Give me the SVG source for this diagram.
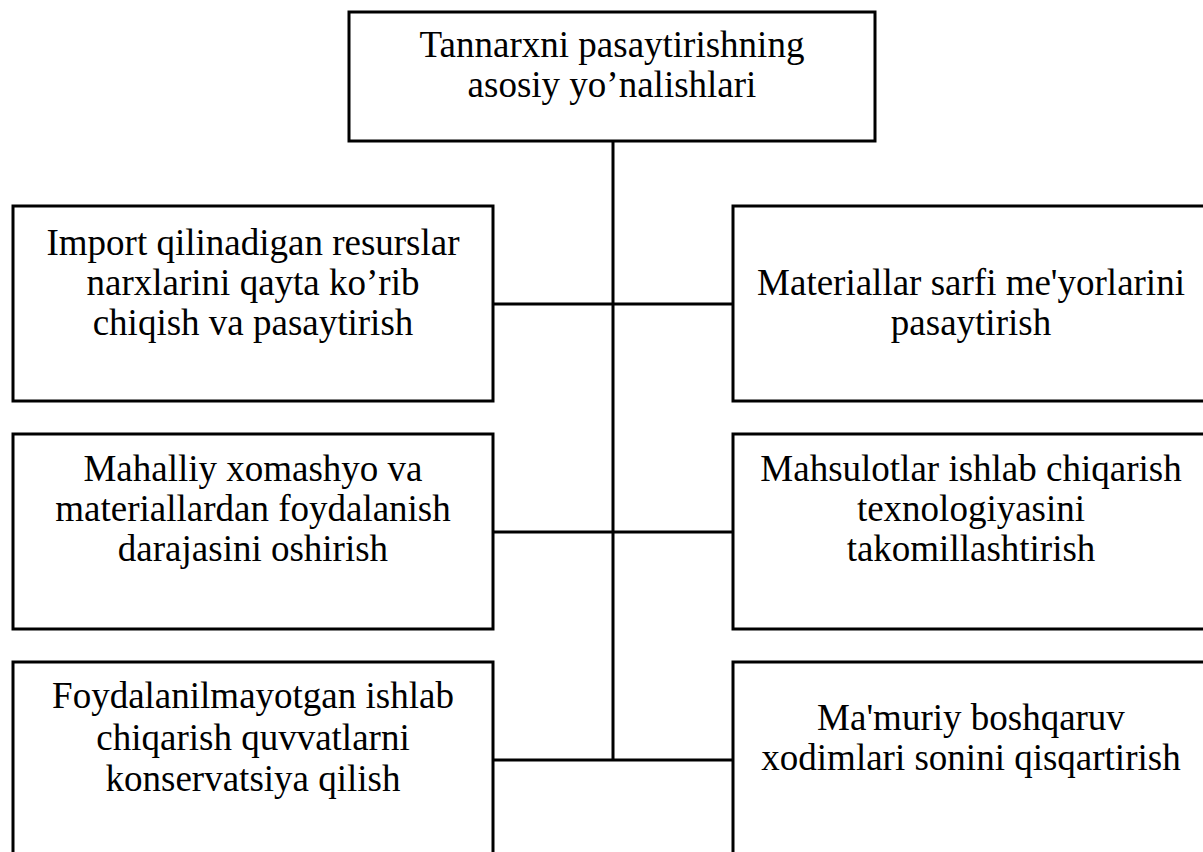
<svg xmlns="http://www.w3.org/2000/svg" width="1203" height="852" viewBox="0 0 1203 852">
<style>
.box{fill:#fff;stroke:#000;stroke-width:3}
.con{fill:none;stroke:#000;stroke-width:3}
text{font-family:"Liberation Serif","Times New Roman",serif;font-size:37px;fill:#000;text-anchor:middle}
</style>
<rect width="1203" height="852" fill="#fff"/>
<g id="connectors">
<line class="con" x1="613" y1="141" x2="613" y2="760"/>
<line class="con" x1="493" y1="304" x2="733" y2="304"/>
<line class="con" x1="493" y1="532" x2="733" y2="532"/>
<line class="con" x1="493" y1="760" x2="733" y2="760"/>
</g>
<g id="root">
<rect class="box" x="349" y="12" width="526" height="129"/>
<text x="612" y="57">Tannarxni pasaytirishning</text>
<text x="612" y="97">asosiy yo’nalishlari</text>
</g>
<g id="left1">
<rect class="box" x="13" y="206" width="480" height="195"/>
<text x="253" y="255">Import qilinadigan resurslar</text>
<text x="253" y="295">narxlarini qayta ko’rib</text>
<text x="253" y="335">chiqish va pasaytirish</text>
</g>
<g id="right1">
<rect class="box" x="733" y="206" width="480" height="195"/>
<text x="971" y="295">Materiallar sarfi me'yorlarini</text>
<text x="971" y="335">pasaytirish</text>
</g>
<g id="left2">
<rect class="box" x="13" y="434" width="480" height="195"/>
<text x="253" y="481">Mahalliy xomashyo va</text>
<text x="253" y="521">materiallardan foydalanish</text>
<text x="253" y="561">darajasini oshirish</text>
</g>
<g id="right2">
<rect class="box" x="733" y="434" width="480" height="195"/>
<text x="971" y="481">Mahsulotlar ishlab chiqarish</text>
<text x="971" y="521">texnologiyasini</text>
<text x="971" y="561">takomillashtirish</text>
</g>
<g id="left3">
<rect class="box" x="13" y="662" width="480" height="195"/>
<text x="253" y="708">Foydalanilmayotgan ishlab</text>
<text x="253" y="750">chiqarish quvvatlarni</text>
<text x="253" y="791">konservatsiya qilish</text>
</g>
<g id="right3">
<rect class="box" x="733" y="662" width="480" height="195"/>
<text x="971" y="730">Ma'muriy boshqaruv</text>
<text x="971" y="770">xodimlari sonini qisqartirish</text>
</g>
</svg>
